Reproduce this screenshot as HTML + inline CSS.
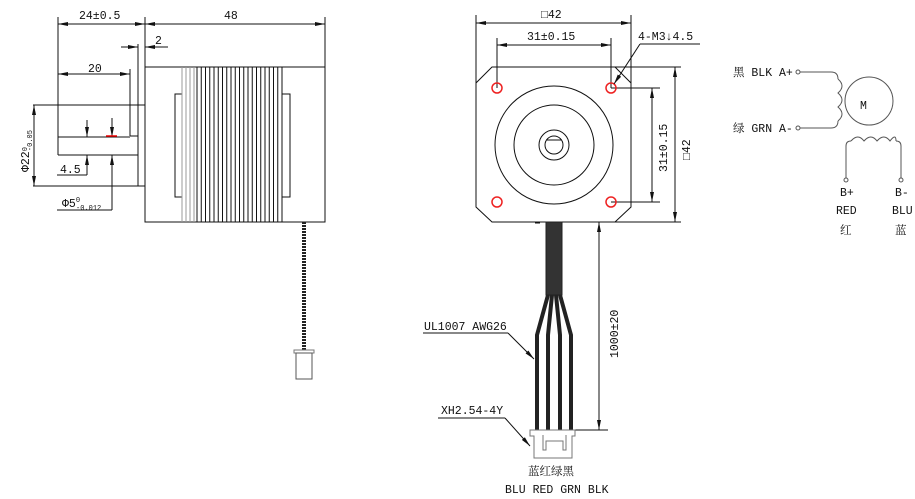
<!DOCTYPE html>
<html><head><meta charset="utf-8"><style>
html,body{margin:0;padding:0;background:#fff;}
svg{display:block;}
text{font-family:"Liberation Mono","Noto Serif CJK SC",monospace;font-size:11.5px;fill:#111;}
</style></head><body>
<svg width="915" height="499" viewBox="0 0 915 499" xmlns="http://www.w3.org/2000/svg">
<defs>
<marker id="a" viewBox="0 0 10 4" refX="10" refY="2" markerWidth="10" markerHeight="4" orient="auto-start-reverse" markerUnits="userSpaceOnUse"><path d="M0,0L10,2L0,4z" fill="#111"/></marker>
</defs>
<g stroke="#111" stroke-width="1" fill="none">
<line x1="58" y1="17" x2="58" y2="155"/>
<line x1="145" y1="17" x2="145" y2="67"/>
<line x1="325" y1="17" x2="325" y2="67"/>
<line x1="58" y1="24" x2="145" y2="24" marker-start="url(#a)" marker-end="url(#a)"/>
<line x1="145" y1="24" x2="325" y2="24" marker-start="url(#a)" marker-end="url(#a)"/>
<rect x="145" y="67" width="180" height="155"/>
<line x1="121" y1="47" x2="138" y2="47" marker-end="url(#a)"/>
<line x1="168" y1="47" x2="145" y2="47" marker-end="url(#a)"/>
<line x1="138" y1="44" x2="138" y2="186"/>
<line x1="58" y1="74" x2="130" y2="74" marker-start="url(#a)" marker-end="url(#a)"/>
<line x1="130" y1="69" x2="130" y2="136"/>
<line x1="58" y1="137" x2="130" y2="137"/>
<line x1="130" y1="136" x2="138" y2="136"/>
<line x1="58" y1="155" x2="138" y2="155"/>
<line x1="33" y1="105" x2="145" y2="105"/>
<line x1="33" y1="186" x2="145" y2="186"/>
<line x1="34" y1="105" x2="34" y2="186" marker-start="url(#a)" marker-end="url(#a)"/>
<line x1="87" y1="120" x2="87" y2="137" marker-end="url(#a)"/>
<line x1="87" y1="175" x2="87" y2="155" marker-end="url(#a)"/>
<line x1="57" y1="175" x2="87" y2="175"/>
<line x1="112" y1="118" x2="112" y2="137" marker-end="url(#a)"/>
<line x1="112" y1="210" x2="112" y2="155" marker-end="url(#a)"/>
<line x1="57" y1="210" x2="112" y2="210"/>
<line x1="106" y1="136" x2="117" y2="136" stroke="#e00" stroke-width="1.5"/>
<rect x="175" y="94" width="7" height="103"/>
<rect x="282" y="94" width="8" height="103"/>
<g stroke="#999"><line x1="182" y1="67" x2="182" y2="222"/><line x1="186" y1="67" x2="186" y2="222"/><line x1="190" y1="67" x2="190" y2="222"/><line x1="194" y1="67" x2="194" y2="222"/></g>
<path d="M197 67V222M201.25 67V222M205.5 67V222M209.75 67V222M214 67V222M218.25 67V222M222.5 67V222M226.75 67V222M231 67V222M235.25 67V222M239.5 67V222M243.75 67V222M248 67V222M252.25 67V222M256.5 67V222M260.75 67V222M265 67V222M269.25 67V222M273.5 67V222M277.75 67V222M282 67V222"/>
<line x1="304" y1="222" x2="304" y2="350" stroke="#222" stroke-width="4" stroke-dasharray="2 1"/>
<rect x="294" y="350" width="20" height="3" stroke="#777"/>
<rect x="296" y="353" width="16" height="26" stroke="#555"/>
<line x1="476" y1="15" x2="476" y2="83"/>
<line x1="631" y1="15" x2="631" y2="83"/>
<line x1="476" y1="23" x2="631" y2="23" marker-start="url(#a)" marker-end="url(#a)"/>
<line x1="497" y1="38" x2="497" y2="88"/>
<line x1="611" y1="38" x2="611" y2="88"/>
<line x1="497" y1="45" x2="611" y2="45" marker-start="url(#a)" marker-end="url(#a)"/>
<path d="M492 67H615L631 83V207L615 222H492L476 207V83Z"/>
<line x1="615" y1="67" x2="681" y2="67"/>
<line x1="615" y1="222" x2="681" y2="222"/>
<line x1="611" y1="88" x2="660" y2="88"/>
<line x1="611" y1="202" x2="660" y2="202"/>
<line x1="652" y1="88" x2="652" y2="202" marker-start="url(#a)" marker-end="url(#a)"/>
<line x1="675" y1="67" x2="675" y2="222" marker-start="url(#a)" marker-end="url(#a)"/>
<circle cx="554" cy="145" r="59"/>
<circle cx="554" cy="145" r="40"/>
<circle cx="554" cy="145" r="15"/>
<circle cx="554" cy="145" r="9"/>
<line x1="546" y1="140" x2="562" y2="140"/>
<g stroke="#e22" stroke-width="1.5"><circle cx="497" cy="88" r="5"/><circle cx="611" cy="88" r="5"/><circle cx="497" cy="202" r="5"/><circle cx="611" cy="202" r="5"/></g>
<line x1="700" y1="44" x2="640" y2="44"/>
<line x1="640" y1="44" x2="614" y2="84" marker-end="url(#a)"/>
<line x1="535" y1="223" x2="540" y2="223"/>
<rect x="546" y="222" width="16" height="73" fill="#333" stroke="#222"/>
<g stroke="#222" stroke-width="4">
<path d="M548 295L537 335V430"/><path d="M552 295L548 335V430"/><path d="M556 295L560 335V430"/><path d="M560 295L571 335V430"/>
</g>
<line x1="562" y1="222" x2="608" y2="222"/>
<line x1="560" y1="430" x2="608" y2="430"/>
<line x1="599" y1="222" x2="599" y2="430" marker-start="url(#a)" marker-end="url(#a)"/>
<line x1="423" y1="333" x2="508" y2="333"/>
<line x1="508" y1="333" x2="534" y2="359" marker-end="url(#a)"/>
<line x1="438" y1="418" x2="505" y2="418"/>
<line x1="505" y1="418" x2="530" y2="446" marker-end="url(#a)"/>
<g stroke="#777">
<path d="M530 430H575V436H572V458H534V436H530Z"/>
<path d="M543 435V450H546V441H563V450H566V435"/>
</g>
<g stroke="#555">
<circle cx="798" cy="72" r="2"/><circle cx="798" cy="128" r="2"/>
<path d="M800 72H831Q838 72 838 79 M800 128H831Q838 128 838 121"/>
<path d="M838 79Q846 86 838 93Q846 100 838 107Q846 114 838 121" />
<circle cx="869" cy="101" r="24"/>
<path d="M846 178V146Q846 141 851 141 M901 178V146Q901 141 896 141"/>
<path d="M851 141Q858 133 864 141Q871 133 877 141Q884 133 890 141Q896 133 896 141"/>
<circle cx="846" cy="180" r="2"/><circle cx="901" cy="180" r="2"/>
</g>
</g>
<g>
<text x="79" y="19">24±0.5</text>
<text x="224" y="19">48</text>
<text x="155" y="44">2</text>
<text x="88" y="72">20</text>
<text x="60" y="173">4.5</text>
<text x="62" y="207">Φ5<tspan font-size="7" dy="-5">0</tspan><tspan font-size="7" dx="-4" dy="8">-0.012</tspan></text>
<text transform="translate(29,172) rotate(-90)">Φ22<tspan font-size="7" dy="-2">0</tspan><tspan font-size="7" dx="-4" dy="5">-0.05</tspan></text>
<text x="541" y="18">□42</text>
<text x="527" y="40">31±0.15</text>
<text x="638" y="40">4-M3↓4.5</text>
<text transform="translate(667,172) rotate(-90)">31±0.15</text>
<text transform="translate(690,160) rotate(-90)">□42</text>
<text transform="translate(618,358) rotate(-90)">1000±20</text>
<text x="424" y="330">UL1007 AWG26</text>
<text x="441" y="414">XH2.54-4Y</text>
<text x="528" y="475" font-size="13">蓝红绿黑</text>
<text x="505" y="493" font-size="11">BLU RED GRN BLK</text>
<text x="733" y="76">黑 BLK A+</text>
<text x="733" y="132">绿 GRN A-</text>
<text x="860" y="109" font-family="Liberation Sans,sans-serif" font-size="20" fill="#555">M</text>
<text x="840" y="196">B+</text>
<text x="895" y="196">B-</text>
<text x="836" y="214">RED</text>
<text x="892" y="214">BLU</text>
<text x="840" y="234">红</text>
<text x="895" y="234">蓝</text>
</g>
</svg>
</body></html>
